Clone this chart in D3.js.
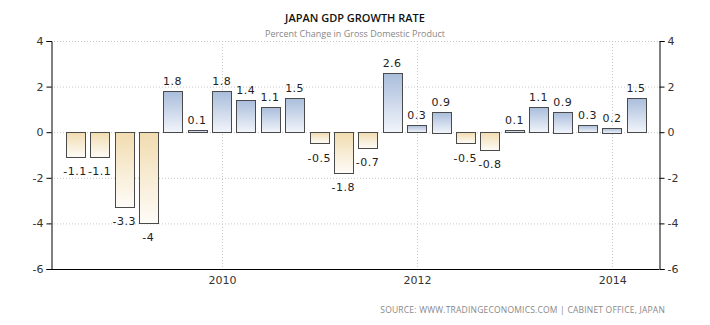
<!DOCTYPE html>
<html>
<head>
<meta charset="utf-8">
<script src="https://cdn.jsdelivr.net/npm/d3@7"></script>
<style>
  body { margin: 0; background: #fff; }
  svg { display: block; }
  .grid line { stroke: #c8c8c8; stroke-dasharray: 1,2; }
  .axis text { font-family: Tahoma, "DejaVu Sans", sans-serif; font-size: 11px; fill: #333; }
  .axis path, .axis line { stroke: #000; }
</style>
</head>
<body>
<svg id="chart"></svg>
<script>
// quarterly GDP growth, QoQ %, quarter-end dates
const quarters = ["2008-06-30","2008-09-30","2008-12-31","2009-03-31","2009-06-30","2009-09-30","2009-12-31",
  "2010-03-31","2010-06-30","2010-09-30","2010-12-31","2011-03-31","2011-06-30","2011-09-30","2011-12-31",
  "2012-03-31","2012-06-30","2012-09-30","2012-12-31","2013-03-31","2013-06-30","2013-09-30","2013-12-31","2014-03-31"];
const growth = [-1.1,-1.1,-3.3,-4,1.8,0.1,1.8,1.4,1.1,1.5,-0.5,-1.8,-0.7,2.6,0.3,0.9,-0.5,-0.8,0.1,1.1,0.9,0.3,0.2,1.5];
const yTicks = [4,2,0,-2,-4,-6];
const xTicks = ["2010-01-01","2012-01-01","2014-01-01"];

const width = 710, height = 325;
const parse = d3.timeParse("%Y-%m-%d");

const svg = d3.select("#chart").attr("width", width).attr("height", height);

const x = d3.scaleTime().domain([parse("2008-04-01"), parse("2014-06-25")]).range([51, 659]);
const y = d3.scaleLinear().domain([-6, 4]).range([269, 41]);
const barW = 19;

const defs = svg.append("defs");
function grad(id, top, bottom) {
  const g = defs.append("linearGradient").attr("id", id).attr("x1", 0).attr("y1", 0).attr("x2", 0).attr("y2", 1);
  g.append("stop").attr("offset", "0%").attr("stop-color", top);
  g.append("stop").attr("offset", "100%").attr("stop-color", bottom);
}
grad("gpos", "#a9bddb", "#f2f5fb");
grad("gneg", "#f1dcb0", "#fefcf8");

// title
svg.append("text").attr("x", 355).attr("y", 22).attr("text-anchor", "middle")
  .style("font-family", "'Open Sans', sans-serif").style("font-size", "11px").style("font-weight", "600")
  .style("fill", "#111").text("JAPAN GDP GROWTH RATE");
svg.append("text").attr("x", 355).attr("y", 37).attr("text-anchor", "middle")
  .style("font-family", "'Open Sans', sans-serif").style("font-size", "9px")
  .style("fill", "#888").text("Percent Change in Gross Domestic Product");

// grid
const grid = svg.append("g").attr("class", "grid");
grid.selectAll(".h").data(yTicks.filter(d => d > -6)).enter().append("line")
  .attr("x1", 51).attr("x2", 659).attr("y1", d => y(d) + 0.5).attr("y2", d => y(d) + 0.5);
grid.selectAll(".v").data(xTicks).enter().append("line")
  .attr("x1", d => Math.round(x(parse(d))) + 0.5).attr("x2", d => Math.round(x(parse(d))) + 0.5)
  .attr("y1", 41).attr("y2", 269);

// bars
const data = quarters.map((q, i) => ({date: parse(q), v: growth[i]}));
svg.selectAll("rect.bar").data(data).enter().append("rect")
  .attr("class", "bar")
  .attr("x", d => Math.round(x(d.date) - barW / 2) + 0.5)
  .attr("y", d => Math.round(y(Math.max(0, d.v))) + 0.5)
  .attr("width", barW)
  .attr("height", d => Math.max(1, Math.round(Math.abs(y(d.v) - y(0)))))
  .attr("fill", d => d.v >= 0 ? "url(#gpos)" : "url(#gneg)")
  .attr("stroke", "#4a4a4a").attr("stroke-width", 1);

svg.selectAll("text.val").data(data).enter().append("text")
  .attr("class", "val")
  .attr("x", d => x(d.date))
  .attr("y", d => d.v >= 0 ? y(d.v) - 6 : y(d.v) + 18)
  .attr("text-anchor", "middle")
  .style("font-family", "Tahoma, 'DejaVu Sans', sans-serif").style("font-size", "11px")
  .style("letter-spacing", "0.5px").style("fill", "#222")
  .text(d => d.v);

// axes
svg.append("g").attr("class", "axis").attr("transform", "translate(51.5,0)")
  .call(d3.axisLeft(y).tickValues(yTicks).tickSize(5).tickPadding(3).tickFormat(d => String(d)));
svg.append("g").attr("class", "axis").attr("transform", "translate(659.5,0)")
  .call(d3.axisRight(y).tickValues(yTicks).tickSize(5).tickPadding(3).tickFormat(d => String(d)));
const xa = svg.append("g").attr("class", "axis").attr("transform", "translate(0,269.5)")
  .call(d3.axisBottom(x).tickValues(xTicks.map(parse)).tickSize(0).tickPadding(7).tickFormat(d3.timeFormat("%Y")));
xa.select(".domain").attr("d", "M51,0H659");

// source
svg.append("text").attr("x", 665).attr("y", 313).attr("text-anchor", "end")
  .style("font-family", "'Open Sans', sans-serif").style("font-size", "8.5px")
  .style("letter-spacing", "0.2px").style("fill", "#888")
  .text("SOURCE: WWW.TRADINGECONOMICS.COM  |  CABINET OFFICE, JAPAN");
</script>
</body>
</html>
